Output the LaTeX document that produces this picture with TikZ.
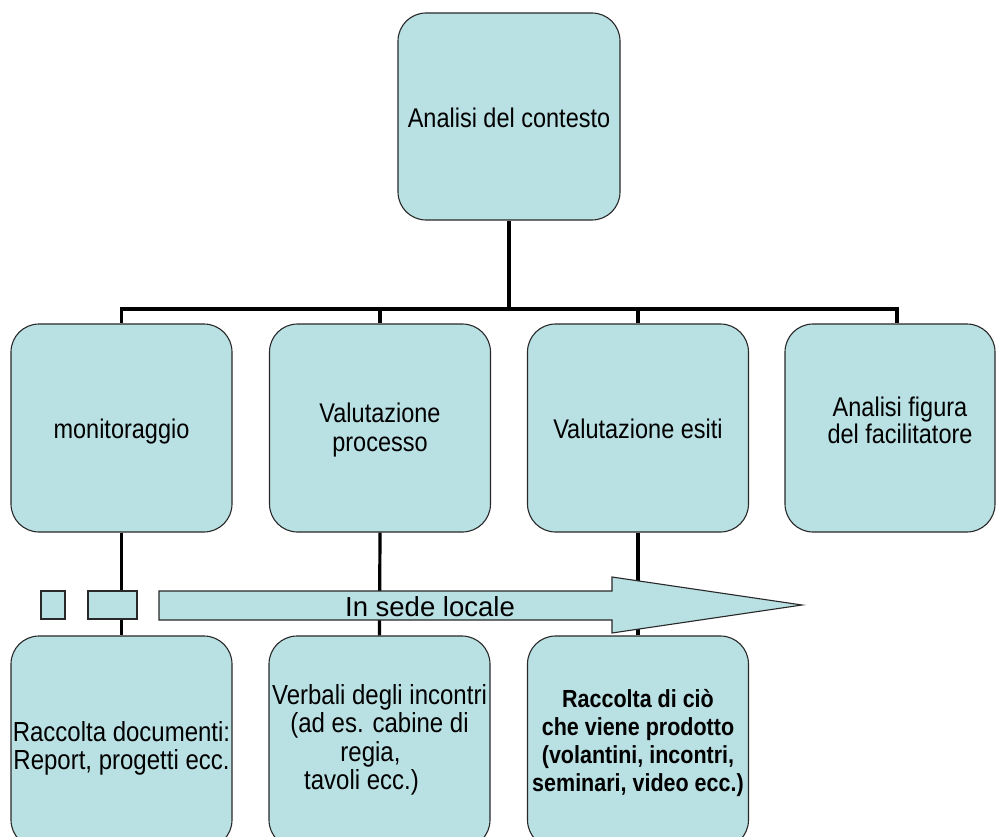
\documentclass[tikz,border=0pt]{standalone}
\usepackage{graphicx}
\usepackage{fontspec}
\setmainfont{Liberation Sans}
\definecolor{boxfill}{RGB}{185,224,227}
\definecolor{edge}{RGB}{40,40,40}
% box labels are set slightly taller than wide
\newcommand{\tallt}[1]{\scalebox{1}[1.15]{\begin{tabular}{@{}c@{}}#1\end{tabular}}}
\begin{document}
\begin{tikzpicture}[x=1pt,y=-1pt,
  box/.style={draw=edge, line width=1.1pt, fill=boxfill, rounded corners=28pt,
    inner sep=0pt, align=center, font=\fontsize{23.5}{23.5}\selectfont},
  midbox/.style={box, minimum width=221pt, minimum height=208pt},
  lowbox/.style={box, minimum width=221pt, minimum height=212pt},
  label/.style={align=center, inner sep=0pt, font=\fontsize{23.5}{23.5}\selectfont},
  link/.style={line width=3.2pt, black},
  tag/.style={draw=edge, line width=1.1pt, fill=boxfill}]
\useasboundingbox (0,0) rectangle (996,837);

% top level
\node[box, minimum width=222pt, minimum height=207pt] (ctx) at (509,116.5) {};
\node[label] (ctxl) at (509,122) {\tallt{Analisi del contesto}};

% second level
\node[midbox] (mon)   at (121.5,428) {};
\node[midbox] (proc)  at (380,428)   {};
\node[midbox] (esiti) at (638,428)   {};
\node[midbox, minimum width=210pt] (fac) at (890,428) {};
\node[label] (monl)   at (121.5,433) {\tallt{monitoraggio}};
\node[label, font=\fontsize{23.5}{25.5}\selectfont] (procl) at (380,431) {\tallt{Valutazione\\processo}};
\node[label] (esitil) at (638,433) {\tallt{Valutazione esiti}};
\node[label, font=\fontsize{23.5}{22.5}\selectfont] (facl) at (900,424)
  {\tallt{Analisi figura\\del facilitatore}};

% third level
\node[lowbox] (doc)  at (121.5,742) {};
\node[lowbox] (verb) at (379.5,742) {};
\node[lowbox] (prod) at (638,742) {};
\node[label, font=\fontsize{24}{23}\selectfont] (docl) at (121.5,749)
  {\tallt{Raccolta documenti:\\Report, progetti ecc.}};
\node[label, font=\fontsize{24}{23.8}\selectfont] (verbl) at (379.5,741)
  {\tallt{Verbali degli incontri\\(ad es. cabine di\\\hspace*{-18pt}regia,\\\hspace*{10pt}tavoli ecc.)\hspace*{46pt}}};
\node[label, font=\bfseries\fontsize{21.5}{24.4}\selectfont] (prodl) at (638,744)
  {\tallt{Raccolta di ciò\\che viene prodotto\\(volantini, incontri,\\seminari, video ecc.)}};

% tree connectors
\coordinate (bar) at (509,309);
\coordinate (c4)  at (897,309);
\draw[link] (ctx.south) -- (bar);
\draw[link] (mon.north) -- (mon.north |- bar) -- (c4) -- (c4 |- fac.north);
\draw[link] (proc.north) -- (proc.north |- bar);
\draw[link] (esiti.north) -- (esiti.north |- bar);
\draw[link] (mon.south) -- (doc.north);
\draw[link] (proc.south) -- (verb.north);
\draw[link] (esiti.south) -- (prod.north);

% band with arrow
\draw[tag] (41,591) rectangle (65,619);
\draw[tag] (88,591) rectangle (137,619);
\draw[tag] (159,591) -- (612,591) -- (612,577) -- (802,605) -- (612,633)
  -- (612,620) -- (159,620) -- cycle;
\node[anchor=base, inner sep=0pt, font=\fontsize{27.5}{30}\selectfont] (sede) at (430,616) {In sede locale};
\end{tikzpicture}
\end{document}
